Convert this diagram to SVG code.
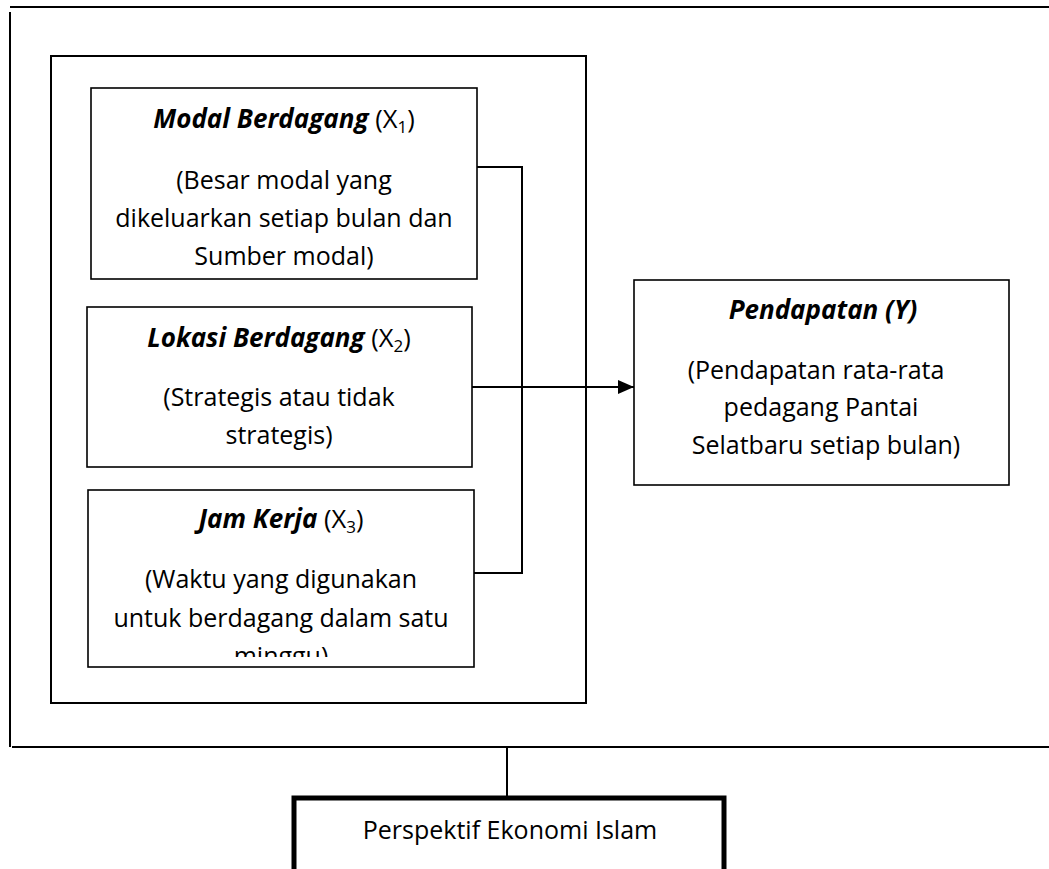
<svg xmlns="http://www.w3.org/2000/svg" width="1049" height="869" viewBox="0 0 1049 869">
<style>
  .frame { fill: none; stroke: #000; stroke-width: 2; }
  .box { fill: #fff; stroke: #000; stroke-width: 1.6; }
  .thick { fill: #fff; stroke: #000; stroke-width: 5; }
  .conn { fill: none; stroke: #000; stroke-width: 2; }
  text { font-family: "Open Sans", "Liberation Sans", sans-serif; font-size: 25px; fill: #000; text-anchor: middle; }
  .t { font-weight: bold; font-style: italic; font-size: 26px; }
  .r { font-weight: normal; font-style: normal; font-size: 25.5px; }
  .sub { font-size: 17px; font-weight: normal; font-style: normal; }
</style>
<defs>
  <marker id="arrow" viewBox="0 0 16 14" refX="16" refY="7" markerWidth="16" markerHeight="14" markerUnits="userSpaceOnUse" orient="auto">
    <path d="M0,0 L16,7 L0,14 Z" fill="#000"/>
  </marker>
  <clipPath id="clip3"><rect x="88" y="490" width="386" height="167"/></clipPath>
</defs>
<rect width="1049" height="869" fill="#fff"/>

<g id="outer-frame">
  <line class="frame" x1="10" y1="7" x2="1049" y2="7"/>
  <line class="frame" x1="10" y1="12" x2="10" y2="747"/>
  <line class="frame" x1="12" y1="747" x2="1049" y2="747" stroke-width="1.6"/>
</g>

<g id="inner-frame">
  <rect class="frame" x="51" y="56" width="535" height="647" stroke-width="1.8"/>
</g>

<g id="node-x1">
  <rect class="box" x="91" y="88" width="386" height="191"/>
  <text x="284" y="128"><tspan class="t">Modal Berdagang</tspan><tspan class="r"> (X</tspan><tspan class="sub" dy="5">1</tspan><tspan class="r" dy="-5">)</tspan></text>
  <text x="284" y="189">(Besar modal yang</text>
  <text x="284" y="227">dikeluarkan setiap bulan dan</text>
  <text x="284" y="265">Sumber modal)</text>
</g>

<g id="node-x2">
  <rect class="box" x="87" y="307" width="385" height="160"/>
  <text x="279" y="347"><tspan class="t">Lokasi Berdagang</tspan><tspan class="r"> (X</tspan><tspan class="sub" dy="5">2</tspan><tspan class="r" dy="-5">)</tspan></text>
  <text x="279" y="406">(Strategis atau tidak</text>
  <text x="279" y="444">strategis)</text>
</g>

<g id="node-x3">
  <rect class="box" x="88" y="490" width="386" height="177"/>
  <g clip-path="url(#clip3)">
    <text x="281" y="528"><tspan class="t">Jam Kerja</tspan><tspan class="r"> (X</tspan><tspan class="sub" dy="5">3</tspan><tspan class="r" dy="-5">)</tspan></text>
    <text x="281" y="588">(Waktu yang digunakan</text>
    <text x="281" y="627">untuk berdagang dalam satu</text>
    <text x="281" y="665">minggu)</text>
  </g>
</g>

<g id="node-y">
  <rect class="box" x="634" y="280" width="375" height="205"/>
  <text class="t" x="823" y="319">Pendapatan (Y)</text>
  <text x="816" y="379">(Pendapatan rata-rata</text>
  <text x="821" y="416">pedagang Pantai</text>
  <text x="826" y="454">Selatbaru setiap bulan)</text>
</g>

<g id="node-islam">
  <rect class="thick" x="294" y="798" width="430" height="90"/>
  <text x="510" y="839">Perspektif Ekonomi Islam</text>
</g>

<g id="connectors">
  <polyline class="conn" points="477,167 522,167 522,573 474,573"/>
  <line class="conn" x1="472" y1="387" x2="634" y2="387" stroke-width="2.4" marker-end="url(#arrow)"/>
  <line class="conn" x1="507" y1="747" x2="507" y2="796" stroke-width="1.6"/>
</g>
</svg>
